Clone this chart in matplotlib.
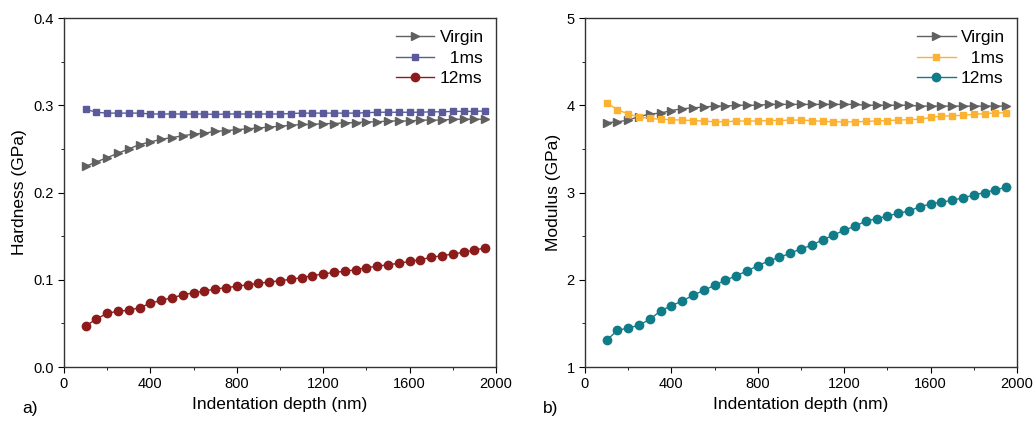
import matplotlib
matplotlib.use('Agg')
import matplotlib.pyplot as plt
from matplotlib.ticker import MultipleLocator

plt.rcParams['font.family'] = ['Liberation Sans', 'DejaVu Sans']

depth = [100, 150, 200, 250, 300, 350, 400, 450, 500, 550, 600, 650, 700, 750,
         800, 850, 900, 950, 1000, 1050, 1100, 1150, 1200, 1250, 1300, 1350,
         1400, 1450, 1500, 1550, 1600, 1650, 1700, 1750, 1800, 1850, 1900, 1950]

hard_virgin = [0.230, 0.235, 0.240, 0.245, 0.250, 0.255, 0.258, 0.261, 0.263, 0.265,
               0.267, 0.268, 0.270, 0.271, 0.272, 0.273, 0.274, 0.275, 0.276, 0.277,
               0.278, 0.278, 0.279, 0.279, 0.280, 0.280, 0.281, 0.281, 0.282, 0.282,
               0.282, 0.283, 0.283, 0.283, 0.284, 0.284, 0.284, 0.284]
hard_1ms = [0.2955, 0.292, 0.291, 0.291, 0.291, 0.291, 0.290, 0.290, 0.290, 0.290,
            0.290, 0.290, 0.2895, 0.290, 0.290, 0.290, 0.290, 0.290, 0.290, 0.2905,
            0.291, 0.291, 0.291, 0.291, 0.291, 0.291, 0.2915, 0.292, 0.292, 0.292,
            0.292, 0.292, 0.2925, 0.2925, 0.293, 0.293, 0.293, 0.2935]
hard_12ms = [0.047, 0.055, 0.0615, 0.064, 0.065, 0.068, 0.073, 0.0764, 0.0795, 0.0825,
             0.0852, 0.0871, 0.0894, 0.0909, 0.0925, 0.0943, 0.0959, 0.0974, 0.0989, 0.1005,
             0.1024, 0.1047, 0.1066, 0.1085, 0.1097, 0.1115, 0.1138, 0.1154, 0.1173, 0.1188,
             0.1211, 0.123, 0.1257, 0.1276, 0.1295, 0.1315, 0.1341, 0.1364]

mod_virgin = [3.80, 3.81, 3.83, 3.87, 3.90, 3.91, 3.94, 3.96, 3.97, 3.98,
              3.99, 3.99, 4.00, 4.00, 4.00, 4.01, 4.01, 4.01, 4.01, 4.01,
              4.01, 4.01, 4.01, 4.01, 4.00, 4.00, 4.00, 4.00, 4.00, 3.99,
              3.99, 3.99, 3.99, 3.99, 3.99, 3.99, 3.99, 3.99]
mod_1ms = [4.03, 3.95, 3.90, 3.865, 3.85, 3.84, 3.835, 3.83, 3.825, 3.82,
           3.81, 3.81, 3.82, 3.82, 3.82, 3.825, 3.825, 3.83, 3.83, 3.825,
           3.815, 3.81, 3.81, 3.81, 3.815, 3.82, 3.825, 3.83, 3.835, 3.84,
           3.86, 3.875, 3.88, 3.885, 3.895, 3.905, 3.91, 3.915]
mod_12ms = [1.306, 1.42, 1.447, 1.478, 1.547, 1.642, 1.703, 1.756, 1.822, 1.879,
            1.936, 1.994, 2.047, 2.10, 2.161, 2.215, 2.257, 2.303, 2.356, 2.394,
            2.459, 2.509, 2.570, 2.612, 2.673, 2.70, 2.731, 2.761, 2.788, 2.837,
            2.868, 2.89, 2.91, 2.94, 2.97, 3.00, 3.03, 3.06]

labels = ['Virgin', '  1ms', '12ms']
gray = '#606060'

fig = plt.figure(figsize=(10.35, 4.22), dpi=100)
ax1 = fig.add_axes([0.0618, 0.1303, 0.4174, 0.827])
ax2 = fig.add_axes([0.5652, 0.1303, 0.4174, 0.827])


def style(ax):
    ax.set_xlim(0, 2000)
    ax.xaxis.set_major_locator(MultipleLocator(400))
    ax.xaxis.set_minor_locator(MultipleLocator(200))
    ax.tick_params(which='both', direction='out', labelsize=10.5, top=False, right=False)
    ax.tick_params(which='major', length=4)
    ax.tick_params(which='minor', length=2.5)
    for s in ax.spines.values():
        s.set_color('#333333')
        s.set_linewidth(1.0)
    ax.set_xlabel('Indentation depth (nm)', fontsize=12.5, labelpad=4)
    ax.legend(loc='upper right', frameon=False, fontsize=12.5, handlelength=2.2,
              handletextpad=0.3, labelspacing=0.3, borderaxespad=0.3)


ax1.plot(depth, hard_virgin, color=gray, marker='>', ms=6.2, lw=1, label=labels[0])
ax1.plot(depth, hard_1ms, color='#5b5b9c', marker='s', ms=5, lw=1, label=labels[1])
ax1.plot(depth, hard_12ms, color='#8c1c1c', marker='o', ms=6, lw=1, label=labels[2])
ax1.set_ylim(0, 0.4)
ax1.yaxis.set_major_locator(MultipleLocator(0.1))
ax1.yaxis.set_minor_locator(MultipleLocator(0.05))
ax1.set_ylabel('Hardness (GPa)', fontsize=12.5)
style(ax1)

ax2.plot(depth, mod_virgin, color=gray, marker='>', ms=6.2, lw=1, label=labels[0])
ax2.plot(depth, mod_1ms, color='#fbb232', marker='s', ms=5, lw=1, label=labels[1])
ax2.plot(depth, mod_12ms, color='#117c89', marker='o', ms=6, lw=1, label=labels[2])
ax2.set_ylim(1, 5)
ax2.yaxis.set_major_locator(MultipleLocator(1))
ax2.yaxis.set_minor_locator(MultipleLocator(0.5))
ax2.set_ylabel('Modulus (GPa)', fontsize=12.5)
style(ax2)

fig.text(22 / 1035, 1 - 409 / 422, 'a)', fontsize=12.5, va='center')
fig.text(543 / 1035, 1 - 409 / 422, 'b)', fontsize=12.5, va='center')

fig.savefig('out.png', dpi=100)
